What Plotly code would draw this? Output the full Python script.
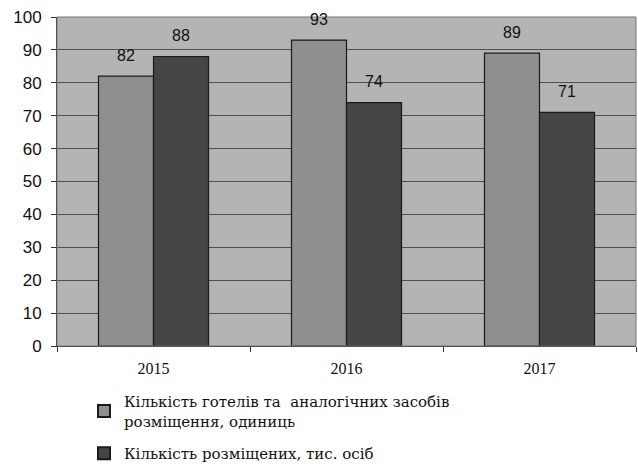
import plotly.graph_objects as go

years = ["2015", "2016", "2017"]
hotels = [82, 93, 89]
guests = [88, 74, 71]
series_names = ["Кількість готелів та  аналогічних засобів<br>розміщення, одиниць",
                "Кількість розміщених, тис. осіб"]
y_ticks = [0, 10, 20, 30, 40, 50, 60, 70, 80, 90, 100]

fig = go.Figure()
fig.add_trace(go.Bar(x=years, y=hotels, name=series_names[0], legendgroup="a",
                     marker=dict(color="#8f8f8f", line=dict(color="#1a1a1a", width=1.2))))
fig.add_trace(go.Bar(x=years, y=guests, name=series_names[1], legendgroup="b",
                     marker=dict(color="#454545", line=dict(color="#1a1a1a", width=1.2))))

for i, yr in enumerate(years):
    for off, vals in ((-0.5, hotels), (0.5, guests)):
        fig.add_annotation(x=i + off * 0.285, y=vals[i], xref="x", yref="y",
                           text=str(vals[i]), showarrow=False, yshift=21,
                           font=dict(family="Liberation Sans", size=16, color="#111"))

fig.update_layout(
    width=638, height=468,
    margin=dict(l=57, r=2, t=17, b=122),
    paper_bgcolor="white", plot_bgcolor="#b4b4b4",
    barmode="group", bargap=0.43, bargroupgap=0,
    showlegend=True,
    legend=dict(x=(84 - 57) / 579, y=1 - 385 / 468, xref="paper", yref="container",
                xanchor="left", yanchor="top",
                font=dict(family="DejaVu Serif", size=15, color="#111"),
                traceorder="grouped", tracegroupgap=10, itemsizing="constant"),
    xaxis=dict(type="category", showgrid=False, showline=True, linecolor="#333",
               linewidth=1, ticks="outside", ticklen=5, tickcolor="#333",
               tickson="boundaries", mirror=False, ticklabelstandoff=8,
               tickfont=dict(family="Liberation Serif", size=16, color="#111")),
    yaxis=dict(range=[0, 100], tickvals=y_ticks, showgrid=True, gridcolor="#505050",
               gridwidth=1.2, showline=True, linecolor="#333", linewidth=1,
               ticks="outside", ticklen=5, tickcolor="#333", zeroline=False,
               ticklabelstandoff=6,
               tickfont=dict(family="Liberation Sans", size=17, color="#111")),
)
fig.add_shape(type="rect", xref="paper", yref="paper", x0=0, y0=0, x1=1, y1=1,
              line=dict(color="#777", width=1))
fig.write_html("out.html", config={"displayModeBar": False},
               post_script="document.body.style.margin='0';")
